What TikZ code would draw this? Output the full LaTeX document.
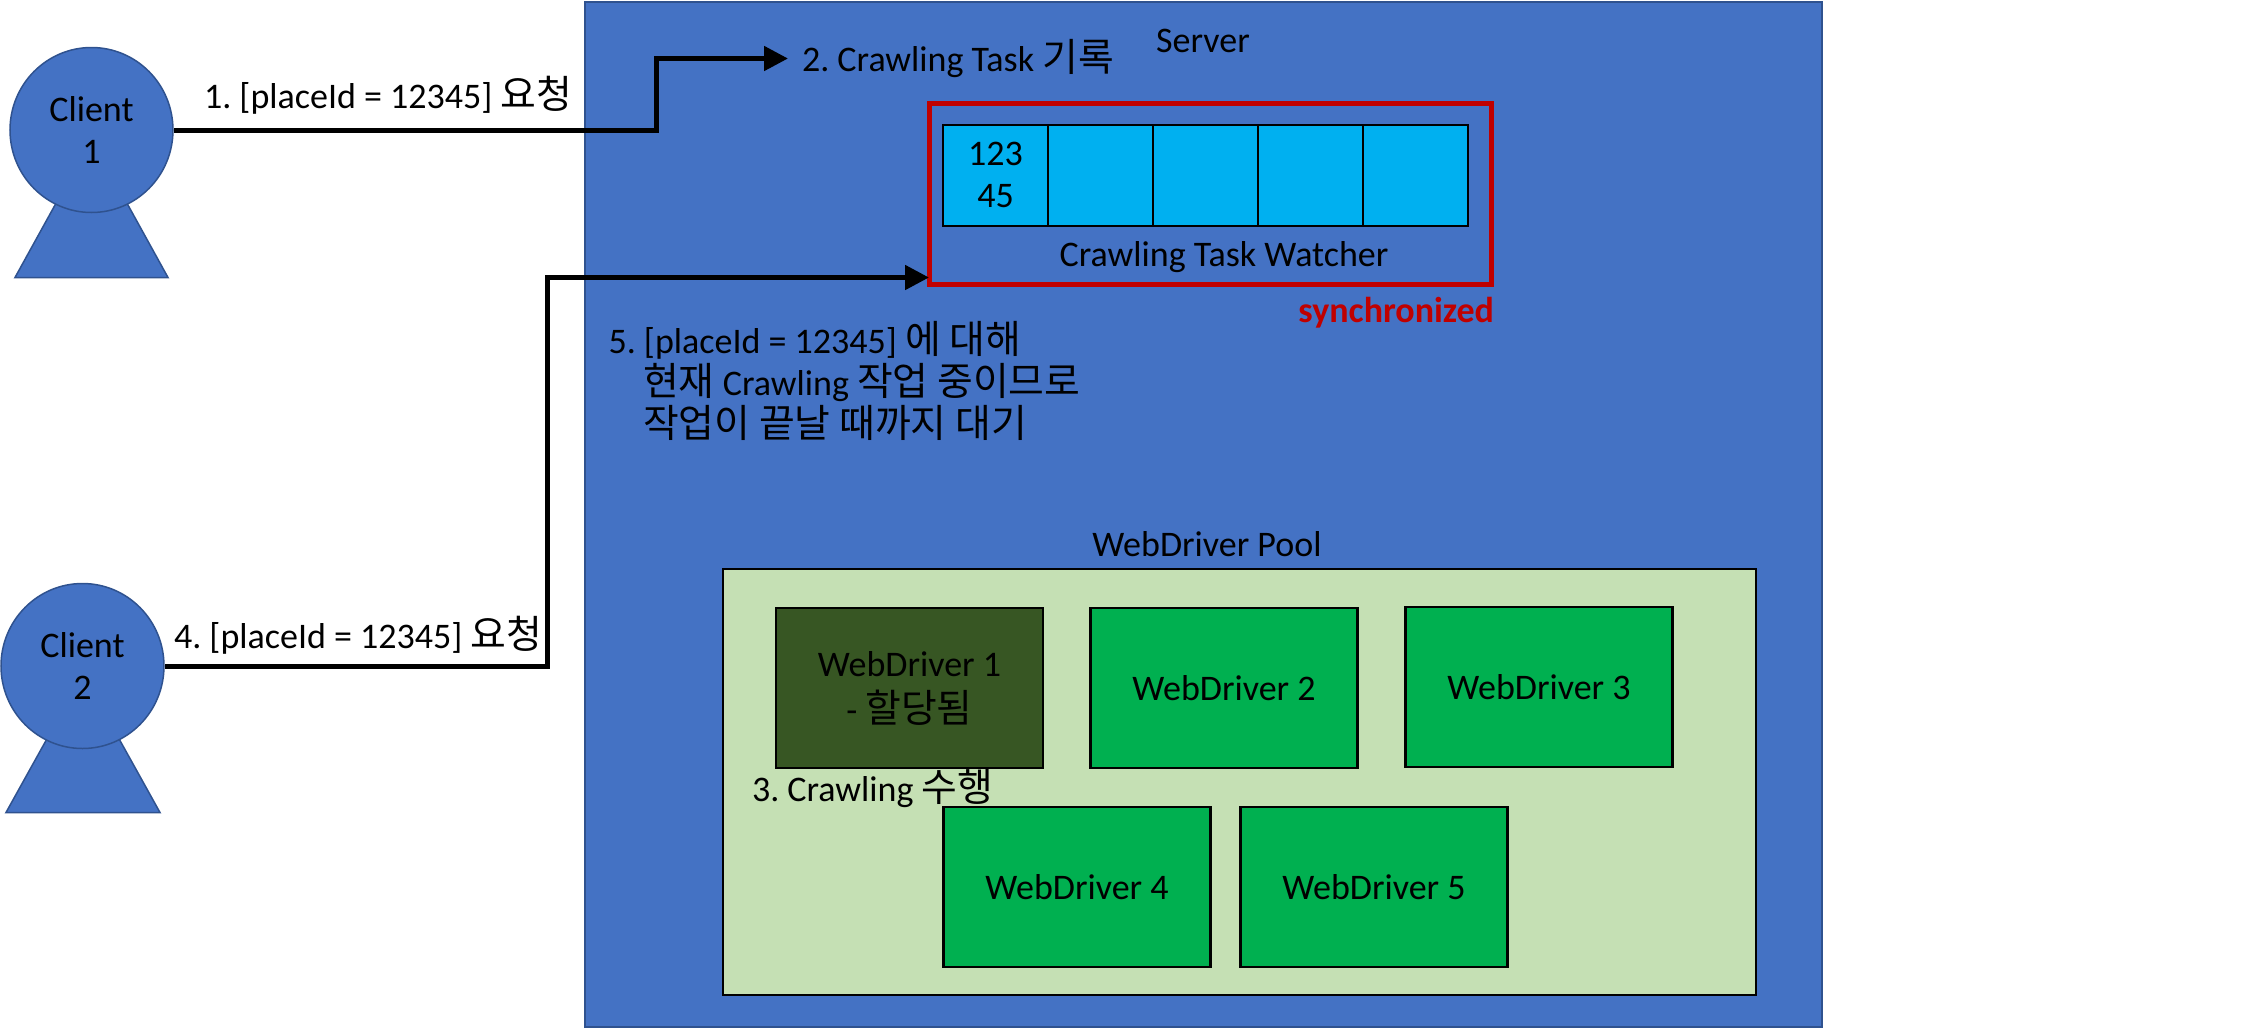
\documentclass[tikz,border=0pt]{standalone}
\usepackage{fontspec}
\usepackage{xcolor}
\usetikzlibrary{arrows.meta,calc,positioning,shapes.geometric}
\setmainfont{Carlito}
\newfontfamily\krfont[Scale=1.08]{Noto Sans CJK KR}
\definecolor{serverblue}{HTML}{4472C4}
\definecolor{edgeblue}{HTML}{2F528F}
\definecolor{poolgreen}{HTML}{C5E0B4}
\definecolor{drivergreen}{HTML}{00B050}
\definecolor{busygreen}{HTML}{375623}
\definecolor{cellblue}{HTML}{00B0F0}
\definecolor{lockred}{HTML}{C00000}
\def\px{0.75pt}
\tikzset{
  txt/.style={inner sep=0pt, outer sep=0pt, align=left},
  person/.style={draw=edgeblue, line width=1.5*\px, fill=serverblue},
  clienthead/.style={person, ellipse, inner sep=0pt, align=center, minimum width=163*\px, minimum height=165*\px},
  driverbox/.style={draw=black, line width=2.5*\px, fill=drivergreen, outer sep=0pt, align=center, minimum width=267*\px, minimum height=160*\px},
  cellbox/.style={draw=black, line width=2*\px, fill=cellblue, outer sep=0pt, align=center, minimum width=105*\px, minimum height=101*\px, inner sep=0pt},
  flow/.style={line width=5*\px, -{Triangle[length=24*\px, width=24*\px]}}
}
\frenchspacing

\begin{document}
\begin{tikzpicture}[x=\px, y=-\px, font=\fontsize{27}{31.5}\selectfont]
  \useasboundingbox (0,0) rectangle (2246,1028);

  % server and pool
  \node[draw=edgeblue, line width=2*\px, fill=serverblue, outer sep=0pt, minimum width=1237*\px, minimum height=1025*\px] (server) at (1203.5,514) {};
  \node[draw=black, line width=2.5*\px, fill=poolgreen, outer sep=0pt, minimum width=1033*\px, minimum height=426*\px] (pool) at (1239.5,782) {};
  \node[txt] (serverlabel) at (1203,41) {Server};
  \node[txt] (poollabel) at (1207,544) {WebDriver Pool};

  % clients
  \draw[person] (15,277.5) -- (91.5,139) -- (168,277.5) -- cycle;
  \node[clienthead] (client1) at (91.5,130) {Client\\1};
  \draw[person] (6,812.5) -- (83,674) -- (160,812.5) -- cycle;
  \node[clienthead] (client2) at (82.5,666) {Client\\2};

  % task watcher
  \node[draw=lockred, line width=5*\px, outer sep=0pt, minimum width=562*\px, minimum height=181*\px] (watcher) at (1210,193.5) {};
  \node[cellbox] (cell1) at (995.5,175) {123\\[0.5pt]45};
  \node[cellbox, right=0pt of cell1] (cell2) {};
  \node[cellbox, right=0pt of cell2] (cell3) {};
  \node[cellbox, right=0pt of cell3] (cell4) {};
  \node[cellbox, right=0pt of cell4] (cell5) {};
  \node[txt] (watcherlabel) at (1224,257) {Crawling Task Watcher};
  \node[txt, anchor=east, font=\fontsize{27}{31.5}\selectfont\bfseries, text=lockred] (locklabel) at (1494,313) {synchronized};

  % drivers
  \node[driverbox, fill=busygreen] (driver1) at (909.5,688) {WebDriver 1\\[3pt]- {\krfont 할당됨}};
  \node[driverbox] (driver2) at (1224,688) {WebDriver 2};
  \node[driverbox] (driver3) at (1539,687) {WebDriver 3};
  \node[driverbox] (driver4) at (1077,887) {WebDriver 4};
  \node[driverbox] (driver5) at (1374,887) {WebDriver 5};

  % step labels
  \node[txt, anchor=west] (step1) at (204,95) {1. [placeId = 12345] {\krfont 요청}};
  \node[txt, anchor=west] (step2) at (802,59) {2. Crawling Task {\krfont 기록}};
  \node[txt, anchor=west] (step3) at (752,789) {3. Crawling {\krfont 수행}};
  \node[txt, anchor=west] (step4) at (174,635) {4. [placeId = 12345] {\krfont 요청}};
  \node[txt, anchor=north west] (step5) at (608.5,321.5) {5. [placeId = 12345] {\krfont 에 대해}\\
    \hspace*{26pt}{\krfont 현재} Crawling {\krfont 작업 중이므로}\\
    \hspace*{26pt}{\krfont 작업이 끝날 때까지 대기}};

  % connectors
  \coordinate (bend1) at (656,58.5);
  \coordinate (recordtip) at (788,58.5);
  \coordinate (bend2) at (547,277.5);
  \coordinate (watchertip) at (929,277.5);
  \draw[flow] (client1.east) -| (bend1) -- (recordtip);
  \draw[flow] (client2.east) -| (bend2) -- (watchertip);
\end{tikzpicture}
\end{document}
